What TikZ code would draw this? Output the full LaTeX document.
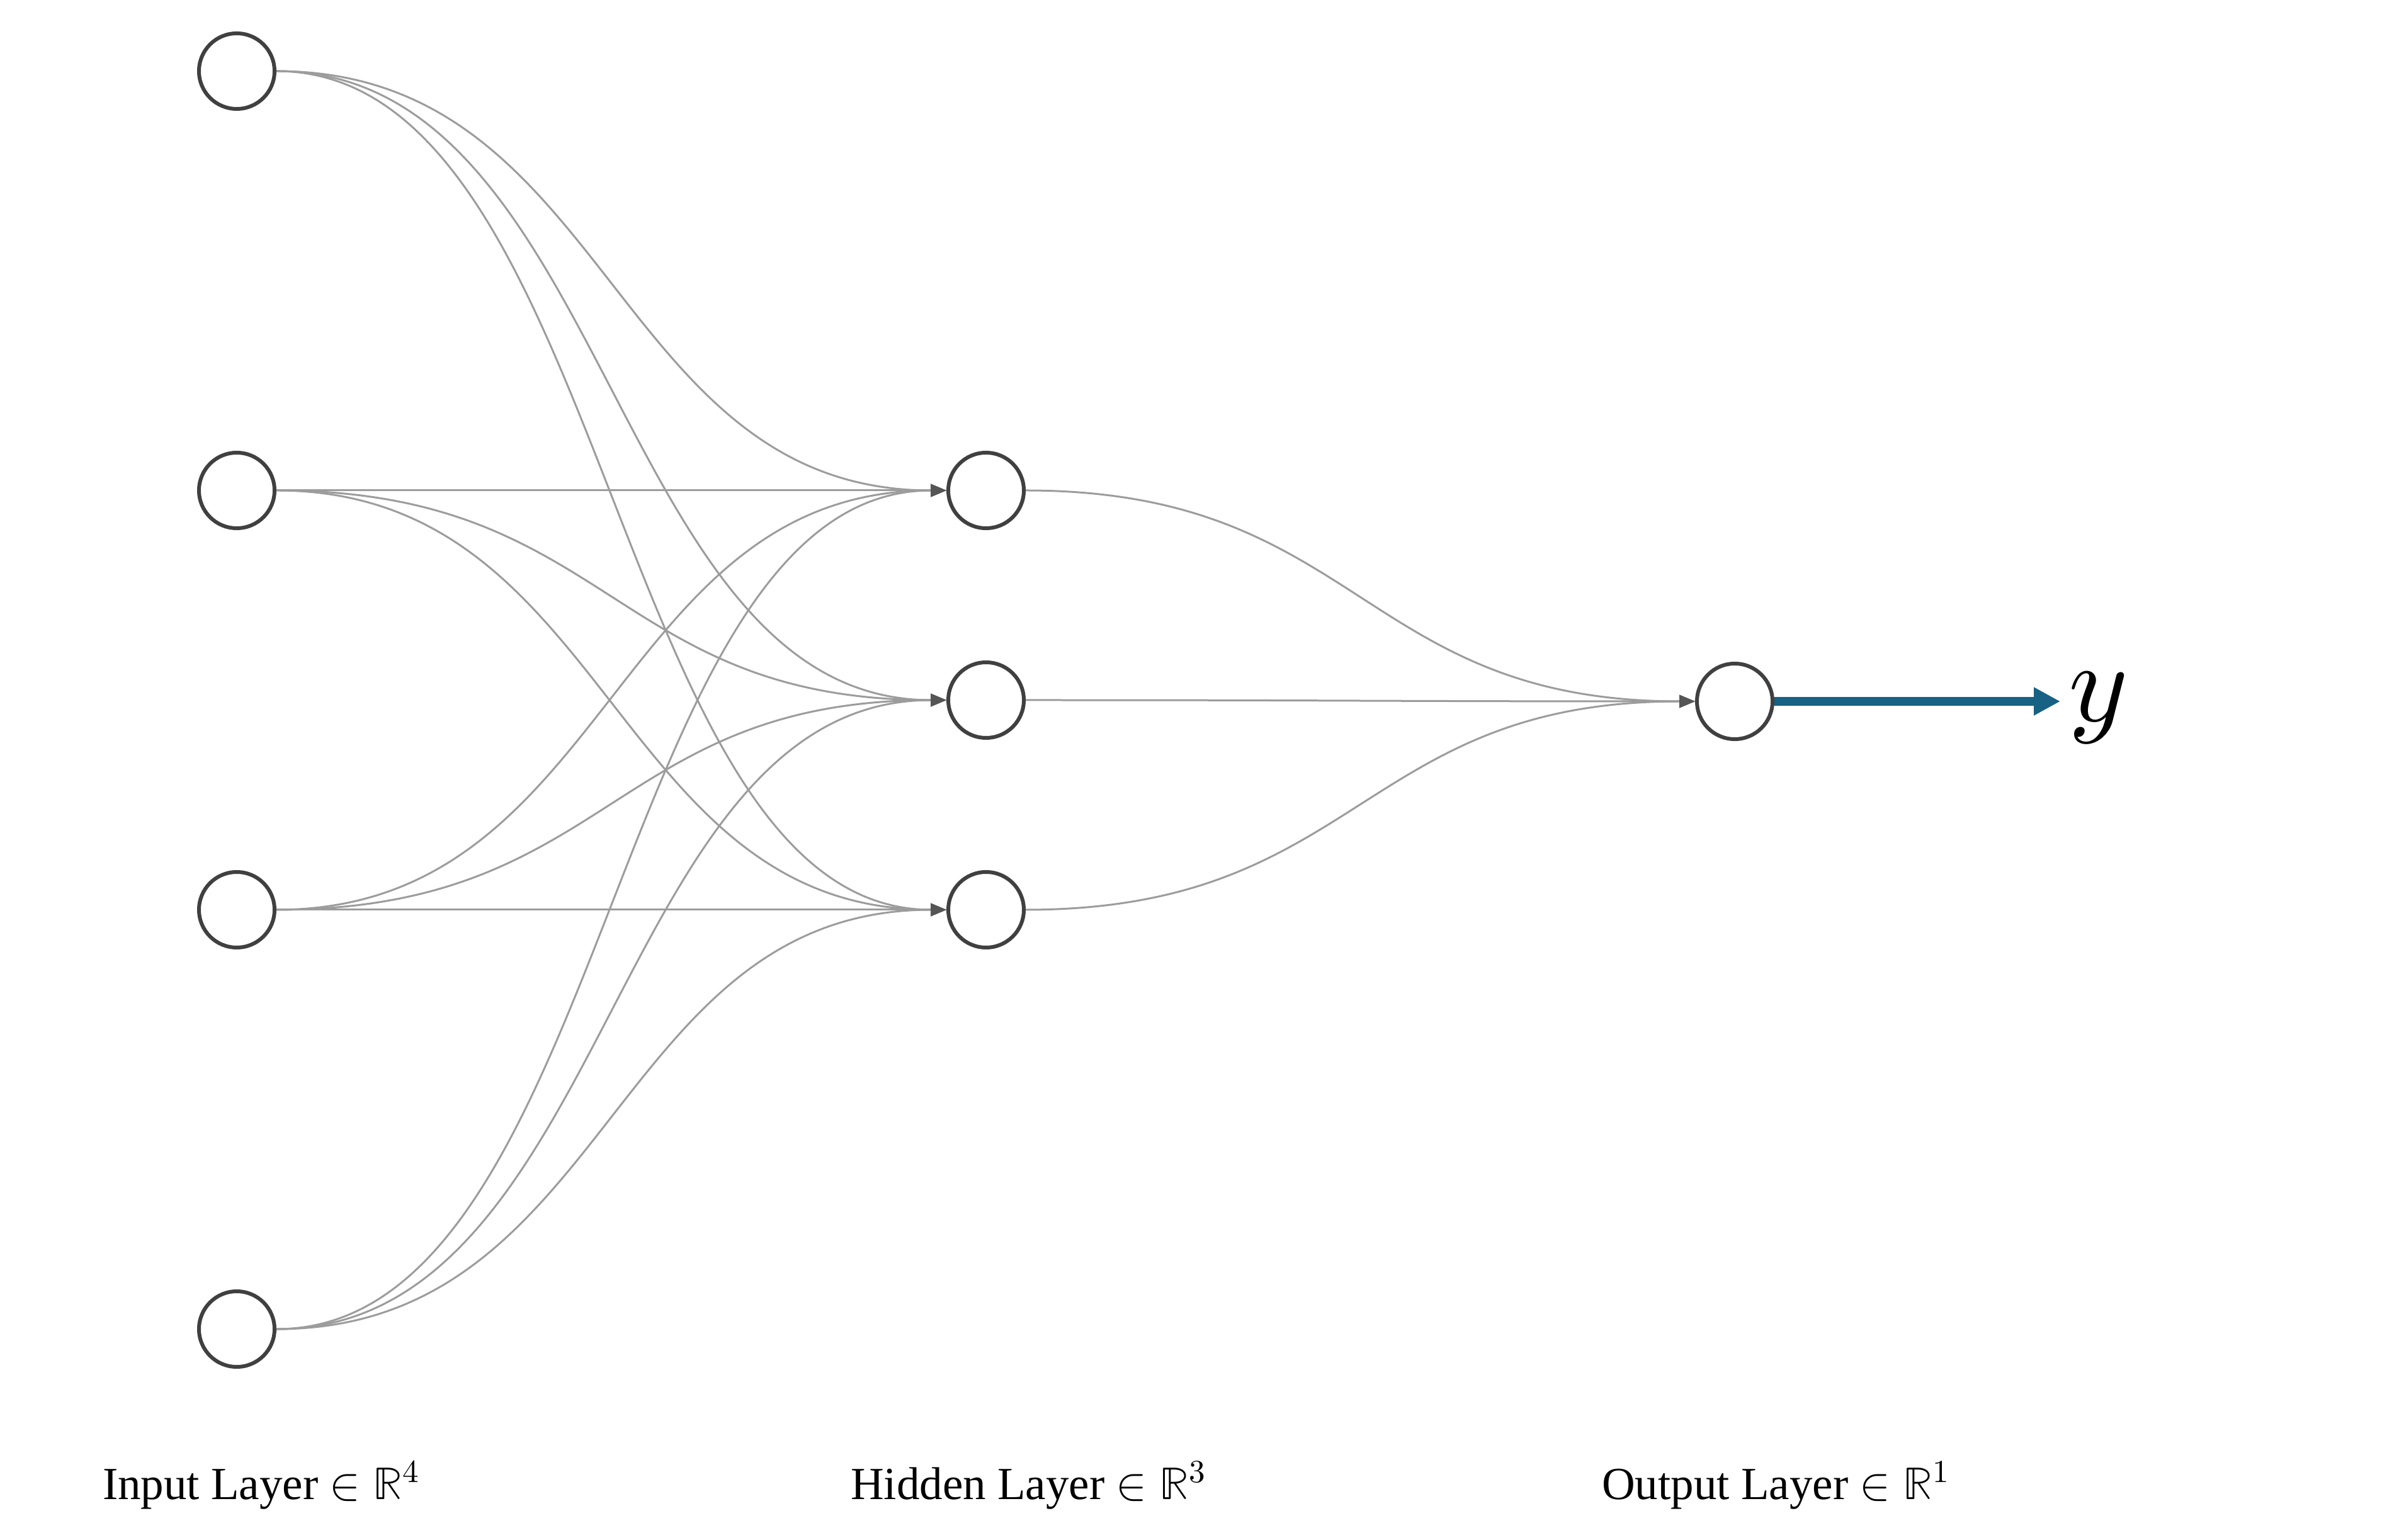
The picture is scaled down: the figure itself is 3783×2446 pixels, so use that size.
\documentclass[tikz,border=0pt]{standalone}
\usepackage{fontspec}
\usepackage{unicode-math}
\setmainfont{Liberation Serif}
\setmathfont{Latin Modern Math}
\usetikzlibrary{arrows.meta,calc}
\definecolor{edgec}{HTML}{9C9C9C}
\definecolor{tipc}{HTML}{555555}
\definecolor{nodec}{HTML}{404040}
\definecolor{outc}{HTML}{176185}
\begin{document}
\begin{tikzpicture}[x=0.2pt,y=-0.2pt,
  neuron/.style={circle,draw=nodec,line width=1.2pt,minimum size=24pt,inner sep=0pt,fill=white},
  conn/.style={draw=edgec,line width=0.6pt,-{Triangle[length=5pt,width=4pt,color=tipc]}},
  lbl/.style={anchor=base west,inner sep=0pt,font=\fontsize{14.6}{17}\selectfont}]
\useasboundingbox (0,0) rectangle (3783,2446);
% input layer
\node[neuron] (i1) at (376,113) {};
\node[neuron] (i2) at (376,779) {};
\node[neuron] (i3) at (376,1445) {};
\node[neuron] (i4) at (376,2111) {};
% hidden layer
\node[neuron] (h1) at (1566,779) {};
\node[neuron] (h2) at (1566,1112) {};
\node[neuron] (h3) at (1566,1445) {};
% output layer
\node[neuron] (o) at (2755,1114) {};
% connections
\foreach \i in {1,...,4}{
  \foreach \h in {1,2,3}{
    \draw[conn] let \p1=(i\i.east), \p2=(h\h.west) in
      (\p1) .. controls ({(\x1+\x2)/2},\y1) and ({(\x1+\x2)/2},\y2) .. (\p2);
  }
}
\foreach \h in {1,2,3}{
  \draw[conn] let \p1=(h\h.east), \p2=(o.west) in
    (\p1) .. controls ({(\x1+\x2)/2},\y1) and ({(\x1+\x2)/2},\y2) .. (\p2);
}
% output arrow
\coordinate (yend) at (3272,1114);
\draw[outc,line width=2.8pt,-{Triangle[length=8.4pt,width=8.4pt]}] (o.east) -- (yend);
\node[anchor=base west,inner sep=0pt,font=\fontsize{36}{38}\selectfont] (ylab) at (3284,1146) {$y$};
% labels
\node[lbl] (li) at (162,2381) {Input Layer $\in \mathbb{R}^{4}$};
\node[lbl] (lh) at (1350,2381) {Hidden Layer $\in \mathbb{R}^{3}$};
\node[lbl] (lo) at (2543,2381) {Output Layer $\in \mathbb{R}^{1}$};
\end{tikzpicture}
\end{document}
